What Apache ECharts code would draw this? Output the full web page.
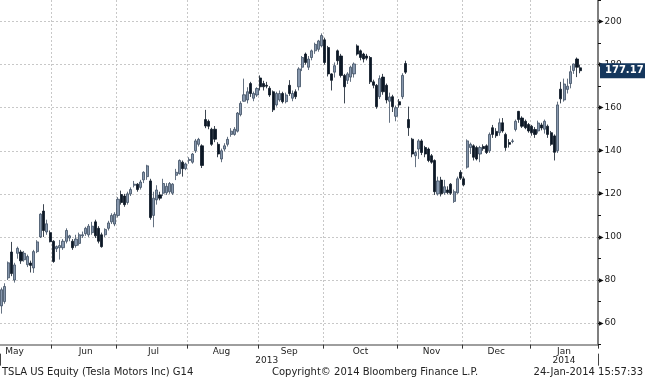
<!DOCTYPE html>
<html><head><meta charset="utf-8">
<script src="https://cdn.jsdelivr.net/npm/echarts@6/dist/echarts.min.js"></script>
<style>html,body{margin:0;padding:0;background:#fff}#c{width:645px;height:380px}</style>
</head><body><div id="c"></div>
<script>
// trading days per month
const mayDays = [9,10,13,14,15,16,17,20,21,22,23,24,28,29,30,31];
const junDays = [3,4,5,6,7,10,11,12,13,14,17,18,19,20,21,24,25,26,27,28];
const julDays = [1,2,3,5,8,9,10,11,12,15,16,17,18,19,22,23,24,25,26,29,30,31];
const augDays = [1,2,5,6,7,8,9,12,13,14,15,16,19,20,21,22,23,26,27,28,29,30];
const sepDays = [3,4,5,6,9,10,11,12,13,16,17,18,19,20,23,24,25,26,27,30];
const octDays = [1,2,3,4,7,8,9,10,11,14,15,16,17,18,21,22,23,24,25,28,29,30,31];
const novDays = [1,4,5,6,7,8,11,12,13,14,15,18,19,20,21,22,25,26,27,29];
const decDays = [2,3,4,5,6,9,10,11,12,13,16,17,18,19,20,23,24,26,27,30,31];
const janDays = [2,3,6,7,8,9,10,13,14,15,16,17,21,22,23,24];
const monthNames = ['May','Jun','Jul','Aug','Sep','Oct','Nov','Dec','Jan'];
const yAxisTicks = [60,80,100,120,140,160,180,200];

// OHLC rows: [open, close, low, high]
const may = [[68,75.5,64.4,76.5],[70,77,69,78.5],[81,88,80,88.6],[93,83,81.8,97.7],[80,87,78.8,88],
 [92.4,94.7,89.9,95.5],[93,88.9,87.5,94],[89.4,92.4,88.5,93.5],[87.1,90.9,86,91.8],[87.9,86.8,83.5,89],
 [85.6,93.2,83.3,94],[93.2,97.7,92.5,98.5],[100,110.6,99.5,111],[112,103,100,115.2],[102.3,106.1,101,108],
 [102,97.8,97.5,103]];
const jun = [[98,88.6,88,98.5],[94.5,95.5,93,96],[95,96,89.5,98.6],[95,98,94,99],[98,103,97,104],
 [99.5,100.5,98,101],[98,95,94,99],[96,99,95,101],[97,101,96,102],[100.5,101,99.5,102.5],
 [101.5,104,100.5,104.7],[101,105,100,106],[102,105,101,107],[107,100.5,99.5,108],[104,98,97,105],
 [101,95.5,95,102],[101,103.5,100,104],[104,106.5,103,107.5],[107,110,106,111],[106,110.5,105,111.5]];
const jul = [[110,117.5,109,118.5],[119.7,116,115,121.5],[119,115,114,120],[116,120,115,121],[120,122,119,123],
 [124,124.5,123,126],[124.5,122,121,125],[123,125.5,122,126.5],[126.5,130,125,130.5],[128,133,126.5,133.5],
 [126,109,108,127],[110,118,104.5,121],[117.2,121.8,115,124],[119.5,118,117,121],[120.3,124.8,119,127],
 [120.5,123.5,119.5,125],[121,124.8,120,125.5],[120.3,124.5,119.5,125],[128.6,130,126.4,131.6],[129.4,135.5,129,136],
 [134.7,131.7,128,135.5],[131.7,133.9,131,134.5]];
const aug = [[135.5,136,134,137],[134.7,138.5,134,139],[140,144.6,139,145.5],[143,145.3,142,146],[142.3,133.2,132,143],
 [154.5,151.5,150.5,159],[153.7,151.4,150,154.5],[150,143,142.3,150.7],[150,145.4,144,151.5],[143,138.5,137,144],
 [136.2,140,134.7,141],[140.8,142.3,139.8,143.5],[143,145.3,142,146.5],[147.6,149.1,146.5,150.5],[147.6,150,147,151],
 [149.1,157.5,148.5,158],[156.8,162,156,163],[163,166,162.8,173.5],[163.6,167.4,162,169.5],[171.2,166.6,165,172],
 [164.4,166.6,163,167.5],[165.9,168.9,165,169.5]];
const sep = [[173.8,169.7,168,175],[171.2,169.7,168,172.5],[170.4,170,169,172],[169,165.9,165,170],[167.4,159,158,168],
 [161.3,166.6,160.5,167.4],[163.6,166.6,162.8,168],[166.6,162.8,162,167.4],[162.8,165.9,162,167],[170.4,166.6,165.5,172.8],
 [164.4,166.6,163,168],[167.4,165.1,164,168.5],[169.7,178,168,178.8],[178.8,183.3,177,184],[184.9,181,180,185.6],
 [178.8,182.6,177.5,184],[183.3,186.4,182,187],[186.4,189.4,185,190.2],[187.1,191,186,191.5],[188.7,193.5,188,194.5]];
const oct = [[191.5,181,180,192.5],[187.9,175.7,174.5,188.7],[175.7,172.7,168,176],[176.5,179.5,174,181],[186.4,181.8,180,187],
 [184,175,174,185],[175,169.7,162,175.7],[172.7,175.7,171,176.5],[174.2,178.8,172,179.5],[175.7,180.3,174,181],
 [188.7,184.9,184.2,189.4],[186.4,183.3,182,187],[184.9,182.6,181,185.5],[184,183,182,185],[183.3,172,171,184],
 [172,170.4,169,173],[170.4,160.5,159.5,171],[165.1,173.5,164,175],[174.2,167.4,166,175.7],[170.4,163.6,162,171.2],
 [163,165,153,167],[165.1,160.5,158,166],[156,160,153.7,161]];
const nov = [[162.8,161.3,160,164],[165.1,175,164,176],[180.5,176.5,175.7,181.8],[154.5,150.7,146.9,160.5],[145.4,138.5,137,146],
 [137.7,139.2,132.4,140],[140.8,144.6,136.2,145.4],[144.6,139.2,138,145.4],[141.5,138.5,137,142.3],[140.8,135.5,134.7,141.5],
 [137.7,134.7,134,138.5],[135.5,121,119.5,136],[120,126,119.2,128],[126.4,120,118.8,127.9],[120.5,123.3,119.6,126.5],
 [121.8,120.6,119.8,123.5],[124.5,120.3,119.5,125],[116.5,121,115.8,122],[120.5,127,120,128],[130,127.3,126.5,131]];
const dec = [[127,124.2,123.5,128],[132.4,144.6,131.7,145.3],[141.5,143,138.5,143.8],[142.3,137,135.5,143],[141.5,136.2,135.5,142.3],
 [138.5,141.5,134.7,142.3],[142,141,140,143],[142.3,139.2,138.5,143],[140,147.6,139,148.5],[150.7,147.6,146,152],
 [149,147,146,150.5],[148.4,153,147,155],[153,149.2,148.4,155.2],[147.6,141.5,140,148.4],[143.8,143,141.5,145.4],
 [144.3,144.6,143.5,145.5],[149.9,153.7,149,154.5],[158.3,154.5,153,158.5],[155.2,151.4,150.6,156],[153.7,150.7,150,154.5],
 [152.2,149.2,148.4,152.9]];
const jan = [[151.4,148.4,147,152],[149.9,147.6,146,151],[149.2,152.9,148,154],[152,150.6,149.5,153],[150,153.7,148,154.5],
 [151.4,147.6,146,152.2],[148.4,143,142.3,149.2],[146.9,139.3,135.5,147.6],[140,161.3,139,162.8],[168.6,164.1,162,172],
 [163.6,171,162.8,173.5],[168.5,170,166.6,173.5],[171.2,176.7,169,179.5],[177.3,180.3,175.7,180.5],[182.6,178.8,174.2,183.3],
 [178.5,177.17,176,180]];

const monthDays = [mayDays,junDays,julDays,augDays,sepDays,octDays,novDays,decDays,janDays];
const monthYear = [2013,2013,2013,2013,2013,2013,2013,2013,2014];
const monthNum = [5,6,7,8,9,10,11,12,1];
const ohlc = [].concat(may,jun,jul,aug,sep,oct,nov,dec,jan);

const cats = [];
const monthStart = [];
monthDays.forEach((days, m) => {
  monthStart.push(cats.length);
  days.forEach(d => cats.push(monthYear[m] + '-' + String(monthNum[m]).padStart(2,'0') + '-' + String(d).padStart(2,'0')));
});
// empty space to the right of the last bar
for (let k = 0; k < 5; k++) cats.push('');

const tickSet = new Set(monthStart.slice(1));
const labelAt = {4:0, 26:1, 47:2, 68:3, 89:4, 111:5, 133:6, 153:7, 174:8};
const yearStart = monthStart[8];
const yearLabelAt = {82:'2013', 174:'2014'};
const lastClose = ohlc[ohlc.length-1][1];

const FONT = 'DejaVu Sans';
const chart = echarts.init(document.getElementById('c'), null, {renderer:'canvas'});
const pxPerUnit = 43.9/20;
const gridTop = 15.4 - 10*pxPerUnit;
const gridBottomY = 15.4 + 150*pxPerUnit;

chart.setOption({
  animation: false,
  backgroundColor: '#fff',
  grid: {left: 0, right: 47, top: gridTop, height: gridBottomY - gridTop},
  xAxis: [{
    type: 'category', data: cats, boundaryGap: true,
    axisLine: {show: true, lineStyle: {color: '#7f7f7f', width: 1.5}},
    axisTick: {show: true, interval: (i) => tickSet.has(i), length: 4, lineStyle: {color: '#333', width: 1}},
    axisLabel: {interval: (i) => (i in labelAt), formatter: (v, i) => (i in labelAt ? monthNames[labelAt[i]] : ''),
      margin: 3, fontFamily: FONT, fontSize: 9, color: '#222'},
    splitLine: {show: true, interval: (i) => tickSet.has(i), lineStyle: {color: '#c8c8c8', type: [2,2], width: 1}}
  }, {
    type: 'category', data: cats, boundaryGap: true, position: 'bottom', offset: 9,
    axisLine: {show: false},
    axisTick: {show: true, interval: (i) => i === yearStart, length: 12, lineStyle: {color: '#444', width: 1}},
    axisLabel: {interval: (i) => (i in yearLabelAt), formatter: (v, i) => yearLabelAt[i] || '',
      margin: 3, fontFamily: FONT, fontSize: 9, color: '#222'},
    splitLine: {show: false}
  }],
  yAxis: {
    type: 'value', position: 'right', min: 50, max: 210, interval: 10, scale: true,
    axisLine: {show: true, lineStyle: {color: '#7f7f7f', width: 2}},
    axisTick: {show: true, length: 3, lineStyle: {color: '#111', width: 1}},
    axisLabel: {margin: 1, fontFamily: FONT,
      formatter: (v) => yAxisTicks.indexOf(v) >= 0 ? '{t|\u25B6}{v|' + v + '}' : '',
      rich: {t: {fontSize: 6, color: '#111', fontFamily: FONT, padding: [0,1,0,0]},
             v: {fontSize: 9, color: '#222', fontFamily: FONT}}},
    splitLine: {show: true, showMinLine: true, showMaxLine: true,
      lineStyle: {color: ['rgba(0,0,0,0)', '#c8c8c8'], type: [2,2], width: 1}}
  },
  series: [{
    type: 'candlestick', data: ohlc, barWidth: 2.6, clip: false,
    itemStyle: {color: '#8797ad', color0: '#0c1826', borderColor: '#3e4e62', borderColor0: '#0c1826', borderWidth: 0.8},
    markLine: {
      silent: true, symbol: ['none','none'], animation: false,
      lineStyle: {color: 'rgba(0,0,0,0)', width: 1},
      data: [{yAxis: lastClose}],
      label: {show: true, position: 'end', distance: 2, formatter: lastClose.toFixed(2),
        backgroundColor: '#14365c', color: '#fff', fontFamily: FONT, fontSize: 10, fontWeight: 'bold',
        padding: [3,5,2,5]}
    }
  }],
  graphic: [
    {type: 'text', left: 2, top: 367, style: {text: 'TSLA US Equity (Tesla Motors Inc) G14', font: '10px "DejaVu Sans"', fill: '#222'}},
    {type: 'text', left: 272, top: 367, style: {text: 'Copyright\u00A9 2014 Bloomberg Finance L.P.', font: '10px "DejaVu Sans"', fill: '#222'}},
    {type: 'text', right: 2, top: 367, style: {text: '24-Jan-2014 15:57:33', font: '10px "DejaVu Sans"', fill: '#222'}}
  ]
});
</script></body></html>
